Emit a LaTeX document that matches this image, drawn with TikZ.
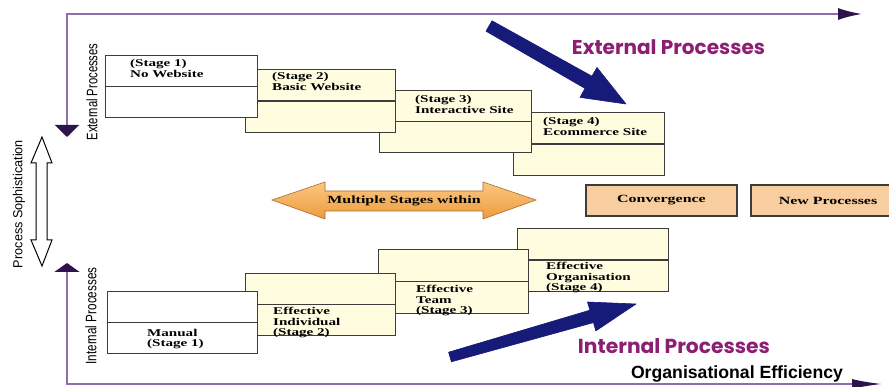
\documentclass[tikz,border=0pt]{standalone}
\usepackage{fontspec}
\usepackage{graphicx}
\usetikzlibrary{arrows.meta}
\setmainfont{Liberation Serif}
\newfontfamily\boxfont{Liberation Serif}[FakeStretch=1.45]
\newfontfamily\axisfont{Liberation Sans}
\newfontfamily\roundfont{Poppins}

\definecolor{cream}{RGB}{255,252,224}
\definecolor{peach}{RGB}{248,206,160}
\definecolor{boxline}{RGB}{60,60,60}
\definecolor{axispurple}{RGB}{140,110,170}
\definecolor{tipdark}{RGB}{45,20,75}
\definecolor{navy}{RGB}{22,26,120}
\definecolor{labelpurple}{RGB}{140,30,115}
\definecolor{orangetop}{RGB}{250,200,130}
\definecolor{orangebot}{RGB}{238,155,60}

\tikzset{
  stagebox/.style={draw=boxline, line width=1.3pt, fill=cream, inner sep=0pt,
    anchor=north west},
  firstbox/.style={stagebox, fill=white},
  divider/.style={draw=boxline, line width=1.3pt},
  toptext/.style={font=\boxfont\bfseries\fontsize{10.4}{11.5}\selectfont,
    align=left, anchor=north west, inner sep=0pt},
  bottext/.style={toptext, font=\boxfont\bfseries\fontsize{10.4}{10.5}\selectfont},
  peachbox/.style={draw=boxline, line width=1.1pt, fill=peach, inner sep=0pt,
    font=\boxfont\bfseries\fontsize{11}{12}\selectfont},
  axisline/.style={draw=axispurple, line width=1.8pt},
  bluearrow/.style={fill=navy, draw=navy, line width=0.6pt, line join=round},
}

\begin{document}
\begin{tikzpicture}[x=1pt, y=-1pt]
\useasboundingbox[fill=white] (0,0) rectangle (889,387);

% ---- axes ----
\coordinate (extdown) at (67,137);
\coordinate (extright) at (862,14);
\coordinate (intup) at (67,263);
\coordinate (intright) at (882,384);
\draw[axisline, {Triangle[length=12pt,width=24pt,color=tipdark]}-{Latex[length=24pt,width=12pt,color=tipdark]}]
  (extdown) |- (extright);
\draw[axisline, {Triangle[length=9pt,width=25pt,color=tipdark]}-{Latex[length=30pt,width=10pt,color=tipdark]}]
  (intup) |- (intright);

% ---- side labels ----
\node[rotate=90, inner sep=0pt] (extlabel) at (92,92)
  {\resizebox{97pt}{11pt}{\axisfont External Processes}};
\node[rotate=90, inner sep=0pt] (intlabel) at (91,316)
  {\resizebox{97pt}{11pt}{\axisfont Internal Processes}};
\node[rotate=90, inner sep=0pt] (sophlabel) at (19,204)
  {\resizebox{128pt}{9.5pt}{\axisfont Process Sophistication}};

% hollow double arrow
\draw[fill=white, draw=black, line width=1pt, line join=miter]
  (42,137) -- (52,163) -- (47,163) -- (47,240) -- (52,240) -- (42,266)
  -- (31,240) -- (36,240) -- (36,163) -- (31,163) -- cycle;

% ---- external stages (drawn back to front) ----
\node[stagebox, minimum width=151pt, minimum height=63pt] (t4) at (513,112) {};
\draw[divider] (t4.west) -- (t4.east);
\node[stagebox, minimum width=152pt, minimum height=62pt] (t3) at (379,90) {};
\draw[divider] (t3.west) -- (t3.east);
\node[stagebox, minimum width=150pt, minimum height=63pt] (t2) at (245,69) {};
\draw[divider] (t2.west) -- (t2.east);
\node[firstbox, minimum width=152pt, minimum height=62pt] (t1) at (105,55) {};
\draw[divider] (t1.west) -- (t1.east);

\node[toptext] (t1txt) at (130,59) {(Stage 1)\\No Website};
\node[toptext] (t2txt) at (272,72) {(Stage 2)\\Basic Website};
\node[toptext] (t3txt) at (415,95) {(Stage 3)\\Interactive Site};
\node[toptext] (t4txt) at (543,117) {(Stage 4)\\Ecommerce Site};

% ---- internal stages (drawn back to front) ----
\node[stagebox, minimum width=151pt, minimum height=63pt] (b4) at (517,228) {};
\draw[divider] (b4.west) -- (b4.east);
\node[stagebox, minimum width=150pt, minimum height=64pt] (b3) at (378,249) {};
\draw[divider] (b3.west) -- (b3.east);
\node[stagebox, minimum width=150pt, minimum height=62pt] (b2) at (245,273) {};
\draw[divider] (b2.west) -- (b2.east);
\node[firstbox, minimum width=150pt, minimum height=62pt] (b1) at (107,291) {};
\draw[divider] (b1.west) -- (b1.east);

\node[bottext] (b1txt) at (147,329) {Manual\\(Stage 1)};
\node[bottext] (b2txt) at (273,307) {Effective\\Individual\\(Stage 2)};
\node[bottext] (b3txt) at (416,285) {Effective\\Team\\(Stage 3)};
\node[bottext] (b4txt) at (546,262) {Effective\\Organisation\\(Stage 4)};

% ---- multiple stages arrow ----
\path[top color=orangetop, bottom color=orangebot, draw=orangebot!70!black, line width=0.6pt]
  (272,200) -- (325,182) -- (325,191) -- (483,191) -- (483,182) -- (536,200)
  -- (483,219) -- (483,211) -- (325,211) -- (325,219) -- cycle;
\node[font=\boxfont\bfseries\fontsize{11}{12}\selectfont, inner sep=0pt] (multi) at (404,201)
  {Multiple Stages within};

% ---- convergence / new processes ----
\node[peachbox, minimum width=151pt, minimum height=31pt] (conv) at (661.5,200.5) {Convergence};
\node[peachbox, minimum width=154pt, minimum height=31pt] (newp) at (828,200.5) {New Processes};

% ---- blue arrows ----
\path[bluearrow] (486.0,31.2) -- (492.0,20.8) -- (591.9,76.2) -- (597.0,67.5)
  -- (626,104) -- (580.0,97.4) -- (585.0,88.4) -- cycle;
\path[bluearrow] (448.6,352.2) -- (589.9,310.2) -- (587.5,302.0) -- (636,304)
  -- (595.8,330.9) -- (593.5,322.6) -- (451.4,361.8) -- cycle;

% ---- purple labels ----
\node[inner sep=0pt, text=labelpurple] (extproc) at (668.5,47)
  {\resizebox{193pt}{!}{\roundfont\bfseries External Processes}};
\node[inner sep=0pt, text=labelpurple] (intproc) at (674,346)
  {\resizebox{192pt}{!}{\roundfont\bfseries Internal Processes}};
\node[inner sep=0pt] (orgeff) at (737,374)
  {\resizebox{212pt}{!}{\axisfont\bfseries Organisational Efficiency}};
\end{tikzpicture}
\end{document}
